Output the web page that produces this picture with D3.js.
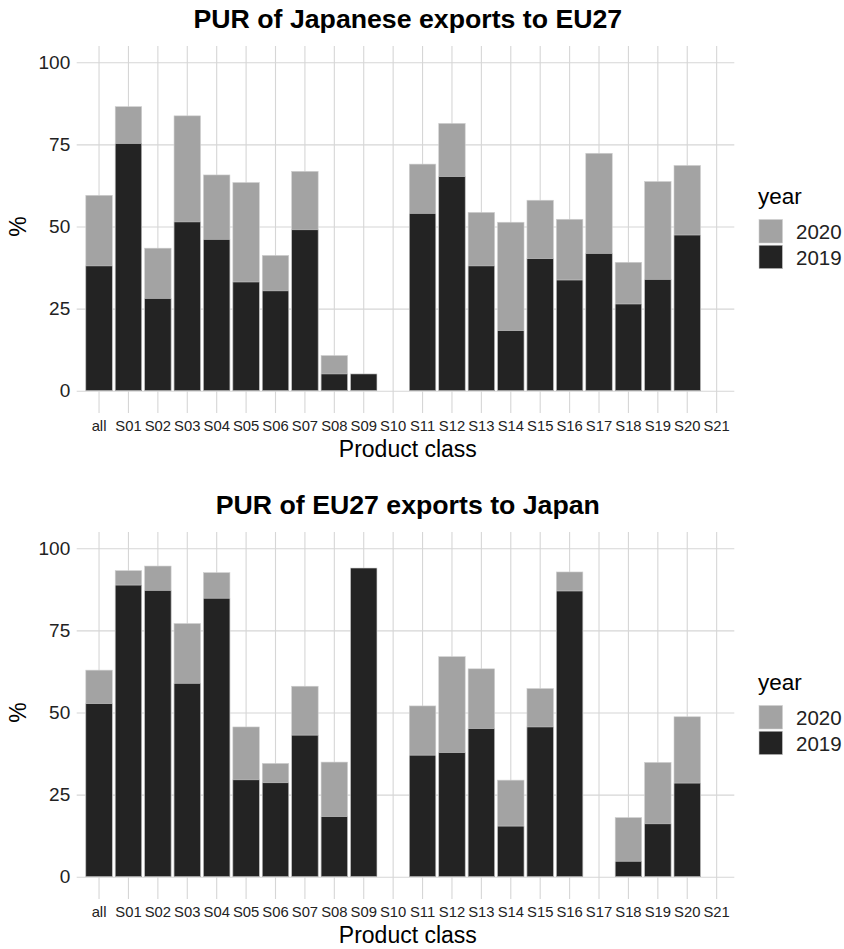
<!DOCTYPE html>
<html>
<head>
<meta charset="utf-8">
<script src="https://cdn.jsdelivr.net/npm/d3@7"></script>
<style>
  body { margin: 0; background: white; }
  text { font-family: "Liberation Sans", Arial, sans-serif; }
</style>
</head>
<body>
<div id="chart"></div>
<script>
// Product classes on the x axis
const categories = ['all', 'S01', 'S02', 'S03', 'S04', 'S05', 'S06', 'S07', 'S08', 'S09', 'S10',
                    'S11', 'S12', 'S13', 'S14', 'S15', 'S16', 'S17', 'S18', 'S19', 'S20', 'S21'];
const yTicks = [0, 25, 50, 75, 100];

// Panel 1: Japanese exports to EU27 (null = no bar)
const jpToEu2019 = [38.0, 75.3, 28.1, 51.4, 46.1, 33.1, 30.4, 49.0, 5.1, 5.1, null,
                    54.0, 65.2, 38.0, 18.3, 40.2, 33.7, 41.8, 26.4, 33.9, 47.4, null];
const jpToEu2020 = [59.5, 86.5, 43.4, 83.7, 65.7, 63.4, 41.2, 66.8, 10.7, 0, null,
                    69.0, 81.4, 54.3, 51.3, 58.0, 52.2, 72.3, 39.1, 63.7, 68.6, null];

// Panel 2: EU27 exports to Japan
const euToJp2019 = [52.7, 88.8, 87.2, 58.9, 84.8, 29.5, 28.6, 43.1, 18.3, 94.0, null,
                    37.0, 37.8, 45.1, 15.4, 45.6, 87.0, null, 4.7, 16.1, 28.5, null];
const euToJp2020 = [62.9, 93.2, 94.6, 77.1, 92.6, 45.6, 34.5, 58.0, 34.9, 0, null,
                    52.0, 67.0, 63.3, 29.4, 57.3, 92.8, null, 18.0, 34.8, 48.7, null];

const years = ['2020', '2019'];
const colors = { '2020': '#a3a3a3', '2019': '#232323' };

let width = 844, height = 949;

let svg = d3.select('#chart')
            .append('svg')
            .attr('width', width)
            .attr('height', height)
            .style('background', 'white');

function drawPanel(top, title, v2019, v2020) {
    // panel box inside the plot
    let margin = { left: 81.4, right: 734.3, top: top + 45.9, bottom: top + 407.1 };

    let g = svg.append('g');

    let xScale = d3.scaleBand()
                .domain(categories)
                .range([margin.left, margin.right])
                .paddingInner(0.1)
                .paddingOuter(0.15);

    let yScale = d3.scaleLinear()
                .domain([-5, 105])
                .range([margin.bottom, margin.top]);

    // horizontal grid + y ticks (lines run from the right edge to just past the left edge)
    let yAxis = g.append('g')
                .attr('transform', `translate(${margin.right},0)`)
                .call(d3.axisLeft(yScale).tickValues(yTicks)
                        .tickSize(margin.right - margin.left + 4.7)
                        .tickPadding(6.5));

    // vertical grid + x ticks
    let xAxis = g.append('g')
                .attr('transform', `translate(0,${margin.top})`)
                .call(d3.axisBottom(xScale)
                        .tickSize(margin.bottom - margin.top + 6)
                        .tickPadding(7.5));

    [yAxis, xAxis].forEach(ax => {
        ax.select('.domain').remove();
        ax.selectAll('line').attr('stroke', '#d6d6d6').attr('stroke-width', 1.1);
        ax.selectAll('text').attr('fill', '#222');
    });
    yAxis.selectAll('text').style('font-size', '19px');
    xAxis.selectAll('text').style('font-size', '14.8px');

    let idx = categories.map((c, i) => i);

    // 2020 drawn behind, 2019 on top
    [['2020', v2020], ['2019', v2019]].forEach(([yr, vals]) => {
        g.selectAll('.bar' + yr)
            .data(idx.filter(i => vals[i] != null && vals[i] > 0))
            .enter()
            .append('rect')
            .attr('x', i => xScale(categories[i]))
            .attr('width', xScale.bandwidth())
            .attr('y', i => yScale(vals[i]))
            .attr('height', i => yScale(0) - yScale(vals[i]))
            .attr('fill', colors[yr])
            .attr('stroke', '#cfcfcf')
            .attr('stroke-width', 0.6);
    });

    let cx = (margin.left + margin.right) / 2;

    // title
    g.append('text')
        .attr('x', cx)
        .attr('y', top + 28)
        .text(title)
        .style('text-anchor', 'middle')
        .style('font-weight', 'bold')
        .style('font-size', '26.7px');

    // x-axis label
    g.append('text')
        .attr('x', cx)
        .attr('y', top + 457)
        .text('Product class')
        .style('text-anchor', 'middle')
        .style('font-size', '23px');

    // y-axis label
    g.append('text')
        .attr('transform', `translate(26,${yScale(50)}) rotate(-90)`)
        .text('%')
        .style('text-anchor', 'middle')
        .style('font-size', '23px');

    // legend
    g.append('text')
        .attr('x', 758)
        .attr('y', top + 204)
        .text('year')
        .style('font-size', '22.5px');

    const legend = g.selectAll('.legend')
                    .data(years)
                    .enter().append('g')
                    .attr('transform', (d, i) => `translate(759,${top + 219.5 + i * 25.7})`);

    legend.append('rect')
        .attr('width', 23.5)
        .attr('height', 23.5)
        .attr('fill', d => colors[d])
        .attr('stroke', '#cfcfcf')
        .attr('stroke-width', 0.6);

    legend.append('text')
        .attr('x', 37)
        .attr('y', 19.5)
        .text(d => d)
        .style('font-size', '20.5px')
        .attr('fill', '#222');
}

drawPanel(0, 'PUR of Japanese exports to EU27', jpToEu2019, jpToEu2020);
drawPanel(486, 'PUR of EU27 exports to Japan', euToJp2019, euToJp2020);
</script>
</body>
</html>
